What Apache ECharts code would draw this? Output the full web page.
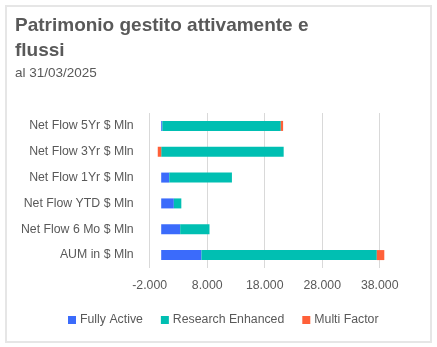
<!DOCTYPE html>
<html>
<head>
<meta charset="utf-8">
<script src="https://cdn.jsdelivr.net/npm/echarts@6/dist/echarts.min.js"></script>
<style>
  html, body { margin: 0; padding: 0; background: #fff; }
  #chart { width: 437px; height: 347px; }
</style>
</head>
<body>
<div id="chart"></div>
<script>
// Categories, bottom to top as the axis lays them out
const categories = [
  'AUM in $ Mln',
  'Net Flow 6 Mo $ Mln',
  'Net Flow YTD $ Mln',
  'Net Flow 1Yr $ Mln',
  'Net Flow 3Yr $ Mln',
  'Net Flow 5Yr $ Mln'
];
// Values in $ millions, same order as categories
const fullyActive = [7000, 3300, 2200, 1400, 0, 200];
const researchEnhanced = [30500, 5100, 1300, 10900, 21300, 20600];
const multiFactor = [1300, 0, 0, 0, -600, 400];

const seriesNames = ['Fully Active', 'Research Enhanced', 'Multi Factor'];
const seriesColors = ['#3B6BFB', '#00BFB2', '#FF6039'];

const axisMin = -2000;
const axisMax = 38000;
const axisStep = 10000;

// Italian-style thousands separator
const fmt = v => {
  const s = Math.abs(v).toString().replace(/\B(?=(\d{3})+(?!\d))/g, '.');
  return (v < 0 ? '-' : '') + s;
};

const chart = echarts.init(document.getElementById('chart'), null, { renderer: 'canvas' });
const textColor = '#595959';
const font = 'Liberation Sans, Arial, sans-serif';

chart.setOption({
  animation: false,
  textStyle: { fontFamily: font },
  graphic: [{
    type: 'rect',
    shape: { x: 6, y: 6, width: 425, height: 336 },
    style: { fill: 'none', stroke: '#e6e6e6', lineWidth: 2 },
    silent: true
  }],
  title: [{
    text: 'Patrimonio gestito attivamente e\nflussi',
    left: 15, top: 13, padding: 0,
    textStyle: { fontFamily: font, fontSize: 19, fontWeight: 'bold', color: textColor, lineHeight: 25 }
  }, {
    text: 'al 31/03/2025',
    left: 15, top: 66, padding: 0,
    textStyle: { fontFamily: font, fontSize: 13.5, fontWeight: 'normal', color: textColor }
  }],
  legend: {
    bottom: 21,
    left: 68,
    padding: 0,
    itemWidth: 8, itemHeight: 8, itemGap: 18,
    icon: 'rect',
    textStyle: { fontFamily: font, fontSize: 12.3, color: textColor, padding: [0, 0, 0, -1] },
    data: seriesNames
  },
  grid: { left: 149.7, right: 57.3, top: 113, bottom: 79, containLabel: false },
  xAxis: {
    type: 'value',
    min: axisMin, max: axisMax, interval: axisStep,
    axisLine: { show: false },
    axisTick: { show: false },
    splitLine: { lineStyle: { color: '#d9d9d9', width: 1 } },
    axisLabel: { formatter: fmt, color: textColor, fontSize: 12.3, margin: 12, fontFamily: font }
  },
  yAxis: {
    type: 'category',
    data: categories,
    axisLine: { show: false },
    axisTick: { show: false },
    axisLabel: { color: textColor, fontSize: 12.3, margin: 16, fontFamily: font }
  },
  series: [fullyActive, researchEnhanced, multiFactor].map((d, i) => ({
    name: seriesNames[i],
    type: 'bar',
    stack: 'total',
    data: d,
    barWidth: 10,
    clip: false,
    itemStyle: { color: seriesColors[i] }
  }))
});
</script>
</body>
</html>
